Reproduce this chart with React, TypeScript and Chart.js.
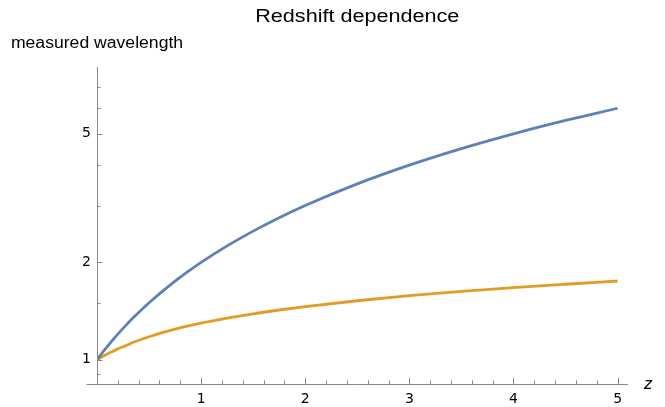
import { useEffect, useRef } from 'react';
import { Chart, registerables } from 'chart.js';
Chart.register(...registerables);

const titleText = 'Redshift dependence';
const yAxisLabel = 'measured wavelength';
const xAxisLabel = 'z';

const zValues = [0, 0.05, 0.1, 0.15, 0.2, 0.25, 0.35, 0.5, 0.75, 1, 1.25, 1.5, 1.75, 2, 2.5, 3, 3.5, 4, 4.5, 5];
const blueValues = [1, 1.05, 1.1, 1.15, 1.2, 1.25, 1.35, 1.5, 1.75, 2, 2.25, 2.5, 2.75, 3, 3.5, 4, 4.5, 5, 5.5, 6];
const orangeValues = [1, 1.021, 1.042, 1.061, 1.08, 1.097, 1.132, 1.178, 1.243, 1.298, 1.345, 1.387, 1.425, 1.46, 1.522, 1.578, 1.627, 1.671, 1.712, 1.752];

const yMajorTicks = [1, 2, 5];
const yMinorTicks = [0.9, 1.5, 3, 4, 6, 7];
const xMajorTicks = [1, 2, 3, 4, 5];
const xMinorTicks = [0.2, 0.4, 0.6, 0.8, 1.2, 1.4, 1.6, 1.8, 2.2, 2.4, 2.6, 2.8, 3.2, 3.4, 3.6, 3.8, 4.2, 4.4, 4.6, 4.8];

const X_MIN = 0;
const X_MAX = 5.1;
const X_AXIS_START = -0.1;
const Y_MIN = 0.841;
const Y_MAX = 8.05;

const BLUE = '#5E81B5';
const ORANGE = '#E19C24';
const AXIS = '#888888';
const FONT = "'DejaVu Sans', sans-serif";
const TEXT_FONT = "'Liberation Sans', Arial, sans-serif";

function stretchedText(ctx: any, text: string, x: number, y: number, sx: number) {
  ctx.save();
  ctx.translate(x, y);
  ctx.scale(sx, 1);
  ctx.fillText(text, 0, 0);
  ctx.restore();
}

const axesPlugin = {
  id: 'mmaAxes',
  afterDraw(chart: any) {
    const { ctx, chartArea, scales } = chart;
    const xs = scales.x;
    const ys = scales.y;
    const x0 = xs.getPixelForValue(0);
    const yb = chartArea.bottom;
    const xl = xs.getPixelForValue(X_AXIS_START);
    const xr = xs.getPixelForValue(X_MAX);
    ctx.save();
    ctx.strokeStyle = AXIS;
    ctx.lineWidth = 1;
    ctx.beginPath();
    ctx.moveTo(xl, yb + 0.5);
    ctx.lineTo(xr, yb + 0.5);
    ctx.moveTo(x0 + 0.5, chartArea.top);
    ctx.lineTo(x0 + 0.5, yb);
    for (const t of xMajorTicks) {
      const p = Math.round(xs.getPixelForValue(t)) + 0.5;
      ctx.moveTo(p, yb);
      ctx.lineTo(p, yb - 6);
    }
    for (const t of xMinorTicks) {
      const p = Math.round(xs.getPixelForValue(t)) + 0.5;
      ctx.moveTo(p, yb);
      ctx.lineTo(p, yb - 3.5);
    }
    for (const t of yMajorTicks) {
      const p = Math.round(ys.getPixelForValue(t)) + 0.5;
      ctx.moveTo(x0, p);
      ctx.lineTo(x0 + 5.5, p);
    }
    for (const t of yMinorTicks) {
      const p = Math.round(ys.getPixelForValue(t)) + 0.5;
      ctx.moveTo(x0, p);
      ctx.lineTo(x0 + 3.5, p);
    }
    ctx.stroke();

    ctx.fillStyle = '#000';
    ctx.textAlign = 'center';
    ctx.textBaseline = 'alphabetic';
    ctx.font = `18px ${TEXT_FONT}`;
    stretchedText(ctx, titleText, (xl + xr) / 2, 22, 1.2);
    ctx.font = `16px ${TEXT_FONT}`;
    stretchedText(ctx, yAxisLabel, x0, 48, 1.1);
    ctx.font = `italic 17px ${TEXT_FONT}`;
    ctx.textAlign = 'left';
    ctx.fillText(xAxisLabel, xr + 16, yb + 5);
    ctx.restore();
  },
};

export default function App() {
  const ref = useRef<HTMLCanvasElement>(null);
  useEffect(() => {
    if (!ref.current) return;
    const chart = new Chart(ref.current, {
      type: 'line',
      data: {
        datasets: [
          {
            data: zValues.map((z, i) => ({ x: z, y: blueValues[i] })),
            borderColor: BLUE,
            borderWidth: 2.8,
            pointRadius: 0,
            cubicInterpolationMode: 'monotone',
            fill: false,
          },
          {
            data: zValues.map((z, i) => ({ x: z, y: orangeValues[i] })),
            borderColor: ORANGE,
            borderWidth: 2.8,
            pointRadius: 0,
            cubicInterpolationMode: 'monotone',
            fill: false,
          },
        ],
      },
      plugins: [axesPlugin],
      options: {
        animation: false,
        responsive: true,
        maintainAspectRatio: false,
        layout: { padding: { top: 67, right: 37, left: 0, bottom: 0 } },
        plugins: { legend: { display: false }, tooltip: { enabled: false }, title: { display: false } },
        scales: {
          x: {
            type: 'linear',
            min: X_MIN,
            max: X_MAX,
            grid: { display: false, drawTicks: false },
            border: { display: false },
            afterBuildTicks: (s: any) => { s.ticks = xMajorTicks.map((v) => ({ value: v })); },
            afterFit: (s: any) => { s.height = 23; },
            ticks: {
              padding: 7,
              color: '#000',
              font: { family: FONT, size: 14 },
              maxRotation: 0,
              callback: (v: any) => String(v),
            },
          },
          y: {
            type: 'logarithmic',
            min: Y_MIN,
            max: Y_MAX,
            grid: { display: false, drawTicks: false },
            border: { display: false },
            afterBuildTicks: (s: any) => { s.ticks = yMajorTicks.map((v) => ({ value: v })); },
            afterFit: (s: any) => { s.width = 97; },
            ticks: {
              padding: 6,
              color: '#000',
              font: { family: FONT, size: 14 },
              callback: (v: any) => String(v),
            },
          },
        },
      },
    } as any);
    return () => chart.destroy();
  }, []);
  return (
    <div style={{ position: 'absolute', left: 0, top: 0, width: 665, height: 407 }}>
      <canvas ref={ref} />
    </div>
  );
}
